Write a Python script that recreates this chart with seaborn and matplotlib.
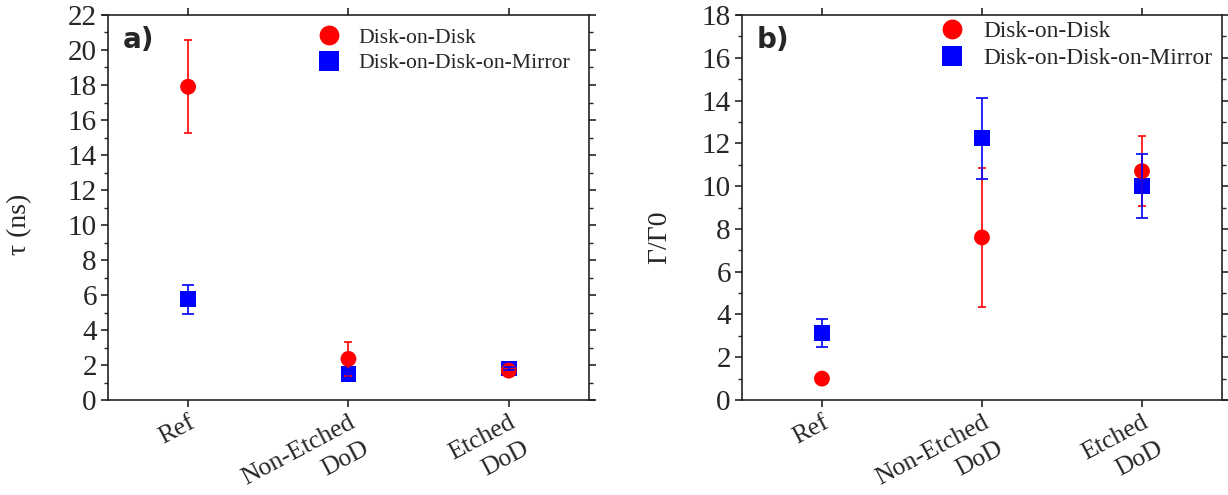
import numpy as np
import pandas as pd
import seaborn as sns
import matplotlib.pyplot as plt
from matplotlib.ticker import MultipleLocator
import matplotlib.transforms as mtransforms

# categories and series
categories = ["Ref", "Non-Etched\nDoD", "Etched\nDoD"]
series = ["Disk-on-Disk-on-Mirror", "Disk-on-Disk"]

# a) lifetime tau (ns)
tau_dod = [17.9, 2.35, 1.68]
tau_dod_err = [2.65, 0.95, 0.15]
tau_dodm = [5.75, 1.5, 1.8]
tau_dodm_err = [0.83, 0.3, 0.08]

# b) Gamma / Gamma0
gam_dod = [1.0, 7.6, 10.7]
gam_dod_err = [0.0, 3.24, 1.64]
gam_dodm = [3.12, 12.23, 10.02]
gam_dodm_err = [0.65, 1.9, 1.5]

colors = {"Disk-on-Disk": "#ff0000", "Disk-on-Disk-on-Mirror": "#0000ff"}
markers = {"Disk-on-Disk": "o", "Disk-on-Disk-on-Mirror": "s"}
capsizes = {"Disk-on-Disk": 2.8, "Disk-on-Disk-on-Mirror": 4.3}

sns.set_style("ticks")
plt.rcParams['font.family'] = ['Liberation Serif', 'DejaVu Serif']


def make_df(dod, dod_err, dodm, dodm_err):
    rows = []
    for name, vals, errs in [("Disk-on-Disk-on-Mirror", dodm, dodm_err),
                             ("Disk-on-Disk", dod, dod_err)]:
        for i, c in enumerate(categories):
            rows.append({"pos": i, "cat": c, "val": vals[i], "err": errs[i], "sample": name})
    return pd.DataFrame(rows)


def panel(ax, df, ymax, ylabel, tag, leg_anchor, leg_fs, ylab_xy):
    sns.scatterplot(data=df, x="pos", y="val", hue="sample", style="sample",
                    hue_order=["Disk-on-Disk", "Disk-on-Disk-on-Mirror"],
                    style_order=["Disk-on-Disk", "Disk-on-Disk-on-Mirror"],
                    palette=colors, markers=markers, s=130, linewidth=0,
                    ax=ax, zorder=3)
    for name in ["Disk-on-Disk", "Disk-on-Disk-on-Mirror"]:
        sub = df[df["sample"] == name]
        ax.errorbar(sub["pos"], sub["val"], yerr=sub["err"], fmt="none",
                    ecolor=colors[name], elinewidth=1.2, capsize=capsizes[name],
                    capthick=1.2, zorder=4)

    ax.set_xlim(-0.5, 2.5)
    ax.set_ylim(0, ymax)
    ax.set_xticks(range(len(categories)))
    ax.set_xticklabels(categories, rotation=28, ha="right", va="top",
                       rotation_mode="anchor", multialignment="right",
                       linespacing=1.45, fontsize=18.5)
    offset = mtransforms.ScaledTranslation(7 / 72, -3 / 72, ax.figure.dpi_scale_trans)
    for lab in ax.get_xticklabels():
        lab.set_transform(lab.get_transform() + offset)
    ax.yaxis.set_major_locator(MultipleLocator(2))
    ax.yaxis.set_minor_locator(MultipleLocator(1))
    ax.tick_params(axis="y", which="major", labelsize=21, length=5, width=1.2,
                   direction="out", left=True, right=True, pad=3)
    ax.tick_params(axis="y", which="minor", length=3, width=1.0,
                   direction="out", left=True, right=True)
    ax.tick_params(axis="x", which="major", length=5, width=1.2,
                   direction="out", top=True, bottom=True)
    for sp in ax.spines.values():
        sp.set_visible(True)
        sp.set_linewidth(1.2)
        sp.set_color("#222222")
    # axis lines overshoot the frame by a tick length, as in the original
    ax.plot([-0.0125, 0], [1, 1], transform=ax.transAxes, clip_on=False,
            color="#222222", lw=1.2, solid_capstyle="butt")
    ax.plot([1, 1.0125], [0, 0], transform=ax.transAxes, clip_on=False,
            color="#222222", lw=1.2, solid_capstyle="butt")
    ax.set_xlabel("")
    ax.set_ylabel(ylabel, fontsize=20)
    ax.yaxis.set_label_coords(*ylab_xy)

    handles, labels = ax.get_legend_handles_labels()
    ax.legend(handles, labels, loc="upper left", bbox_to_anchor=leg_anchor,
              frameon=False, fontsize=leg_fs, handlelength=1.0, handletextpad=0.85,
              borderpad=0, borderaxespad=0, labelspacing=0.25, markerscale=1.25)
    ax.text(0.03, 0.935, tag, transform=ax.transAxes, fontsize=20,
            fontweight="bold", family="DejaVu Sans", va="center", ha="left")


fig = plt.figure(figsize=(12.28, 4.95), dpi=100)
ax1 = fig.add_axes([0.0879, 0.1919, 0.3917, 0.7778])
ax2 = fig.add_axes([0.6042, 0.1919, 0.3909, 0.7778])

panel(ax1, make_df(tau_dod, tau_dod_err, tau_dodm, tau_dodm_err), 22,
      "τ (ns)", "a)", (0.437, 0.967), 15.6, (-0.158, 0.457))
panel(ax2, make_df(gam_dod, gam_dod_err, gam_dodm, gam_dodm_err), 18,
      "Γ/Γ0", "b)", (0.413, 0.985), 16.8, (-0.146, 0.423))

fig.savefig("out.png", dpi=100)
